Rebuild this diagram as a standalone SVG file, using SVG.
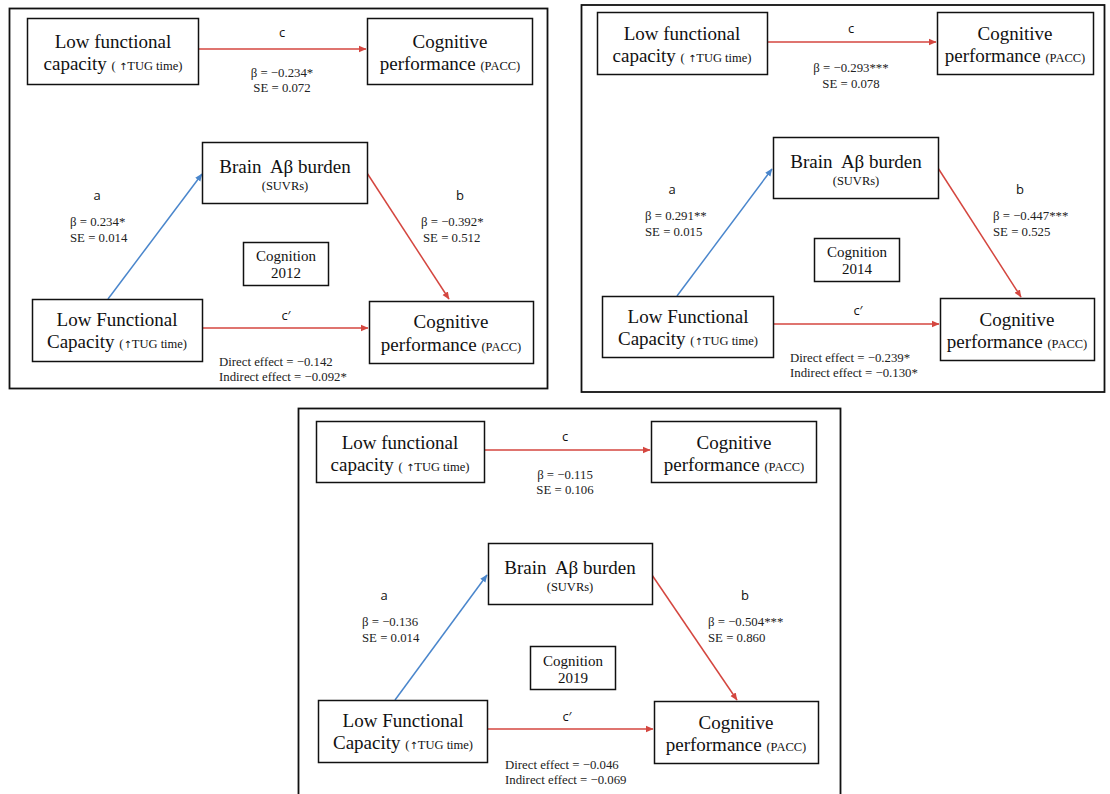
<svg xmlns="http://www.w3.org/2000/svg" width="1110" height="794" viewBox="0 0 1110 794">
<style>
.frame{fill:none;stroke:#111;stroke-width:1.8}
.box{fill:#fff;stroke:#111;stroke-width:1.5}
.t{font-family:'Liberation Serif','DejaVu Serif','Times New Roman',serif;font-size:19px;fill:#111;text-anchor:middle}
.s{font-size:12.5px}
.up{font-family:'DejaVu Sans',sans-serif;font-size:10px}
.cg{font-family:'Liberation Serif','DejaVu Serif','Times New Roman',serif;font-size:15px;fill:#111;text-anchor:middle}
.lab{font-family:'Open Sans','Liberation Sans',sans-serif;font-size:13px;fill:#111;text-anchor:middle}
.st{font-family:'Liberation Serif','DejaVu Serif','Times New Roman',serif;font-size:12.8px;fill:#222}
.mid{text-anchor:middle}
.red{stroke:#d4463f;stroke-width:1.5;fill:none;marker-end:url(#ar)}
.blue{stroke:#4a86cc;stroke-width:1.5;fill:none;marker-end:url(#ab)}
</style>
<defs>
<marker id="ar" markerWidth="8" markerHeight="8" refX="7" refY="4" orient="auto" markerUnits="userSpaceOnUse"><path d="M0,0.8 L7.5,4 L0,7.2 z" fill="#d4463f"/></marker>
<marker id="ab" markerWidth="8" markerHeight="8" refX="7" refY="4" orient="auto" markerUnits="userSpaceOnUse"><path d="M0,0.8 L7.5,4 L0,7.2 z" fill="#4a86cc"/></marker>
</defs>
<rect width="1110" height="794" fill="#fff"/>

<g id="frames">
<rect class="frame" x="9.5" y="8.5" width="538" height="380"/>
<rect class="frame" x="581.5" y="5" width="523" height="387"/>
<rect class="frame" x="298.5" y="408.5" width="542" height="400"/>
</g>

<g id="connectors">
<line class="red" x1="199" y1="49" x2="366" y2="49"/>
<line class="blue" x1="108" y1="299" x2="202" y2="174"/>
<line class="red" x1="367" y1="173" x2="449" y2="299"/>
<line class="red" x1="202" y1="328" x2="368" y2="328"/>

<line class="red" x1="768" y1="42" x2="936" y2="42"/>
<line class="blue" x1="677" y1="296" x2="772" y2="169"/>
<line class="red" x1="938" y1="168" x2="1021" y2="297"/>
<line class="red" x1="773" y1="324" x2="939" y2="324"/>

<line class="red" x1="484" y1="450" x2="650" y2="450"/>
<line class="blue" x1="395" y1="700" x2="487" y2="575"/>
<line class="red" x1="652" y1="575" x2="737" y2="700"/>
<line class="red" x1="487" y1="729" x2="653" y2="729"/>
</g>

<g id="p1-lfc-top">
<rect class="box" x="27.5" y="18.5" width="171" height="66"/>
<text class="t" x="113" y="48">Low functional</text>
<text class="t" x="113" y="70">capacity <tspan class="s">( </tspan><tspan class="up">↑</tspan><tspan class="s">TUG time)</tspan></text>
</g>
<g id="p1-cog-top">
<rect class="box" x="367.5" y="18.5" width="165" height="66"/>
<text class="t" x="450" y="48">Cognitive</text>
<text class="t" x="450" y="70">performance <tspan class="s">(PACC)</tspan></text>
</g>
<g id="p1-brain">
<rect class="box" x="202.5" y="142.5" width="165" height="61"/>
<text class="t" x="285" y="173" xml:space="preserve">Brain  Aβ burden</text>
<text class="t s" x="285" y="190">(SUVRs)</text>
</g>
<g id="p1-year">
<rect class="box" x="243.5" y="242.5" width="85" height="43"/>
<text class="cg" x="286" y="261">Cognition</text>
<text class="cg" x="286" y="278">2012</text>
</g>
<g id="p1-lfc-bot">
<rect class="box" x="32.5" y="299.5" width="170" height="62"/>
<text class="t" x="117" y="326">Low Functional</text>
<text class="t" x="117" y="348">Capacity <tspan class="s">(</tspan><tspan class="up">↑</tspan><tspan class="s">TUG time)</tspan></text>
</g>
<g id="p1-cog-bot">
<rect class="box" x="369.5" y="301.5" width="164" height="62"/>
<text class="t" x="451" y="328">Cognitive</text>
<text class="t" x="451" y="351">performance <tspan class="s">(PACC)</tspan></text>
</g>
<g id="p1-labels">
<text class="lab" x="282" y="37">c</text>
<text class="st mid" x="282" y="77">β = −0.234*</text>
<text class="st mid" x="282" y="92">SE = 0.072</text>
<text class="lab" x="97" y="200">a</text>
<text class="st" x="70" y="226">β = 0.234*</text>
<text class="st" x="70" y="242">SE = 0.014</text>
<text class="lab" x="460" y="200">b</text>
<text class="st" x="421" y="226">β = −0.392*</text>
<text class="st" x="423" y="242">SE = 0.512</text>
<text class="lab" x="286" y="320">c′</text>
<text class="st" x="219" y="366">Direct effect = −0.142</text>
<text class="st" x="219" y="381">Indirect effect = −0.092*</text>
</g>

<g id="p2-lfc-top">
<rect class="box" x="597.5" y="12.5" width="170" height="62"/>
<text class="t" x="682" y="40">Low functional</text>
<text class="t" x="682" y="62">capacity <tspan class="s">( </tspan><tspan class="up">↑</tspan><tspan class="s">TUG time)</tspan></text>
</g>
<g id="p2-cog-top">
<rect class="box" x="937.5" y="12.5" width="156" height="62"/>
<text class="t" x="1015" y="40">Cognitive</text>
<text class="t" x="1015" y="62">performance <tspan class="s">(PACC)</tspan></text>
</g>
<g id="p2-brain">
<rect class="box" x="773.5" y="137.5" width="165" height="61"/>
<text class="t" x="856" y="168" xml:space="preserve">Brain  Aβ burden</text>
<text class="t s" x="856" y="185">(SUVRs)</text>
</g>
<g id="p2-year">
<rect class="box" x="814.5" y="238.5" width="85" height="43"/>
<text class="cg" x="857" y="257">Cognition</text>
<text class="cg" x="857" y="274">2014</text>
</g>
<g id="p2-lfc-bot">
<rect class="box" x="602.5" y="296.5" width="171" height="61"/>
<text class="t" x="688" y="323">Low Functional</text>
<text class="t" x="688" y="345">Capacity <tspan class="s">(</tspan><tspan class="up">↑</tspan><tspan class="s">TUG time)</tspan></text>
</g>
<g id="p2-cog-bot">
<rect class="box" x="940.5" y="298.5" width="154" height="62"/>
<text class="t" x="1017" y="326">Cognitive</text>
<text class="t" x="1017" y="348">performance <tspan class="s">(PACC)</tspan></text>
</g>
<g id="p2-labels">
<text class="lab" x="851" y="33">c</text>
<text class="st mid" x="851" y="72">β = −0.293***</text>
<text class="st mid" x="851" y="88">SE = 0.078</text>
<text class="lab" x="672" y="194">a</text>
<text class="st" x="645" y="220">β = 0.291**</text>
<text class="st" x="645" y="236">SE = 0.015</text>
<text class="lab" x="1020" y="194">b</text>
<text class="st" x="993" y="220">β = −0.447***</text>
<text class="st" x="993" y="236">SE = 0.525</text>
<text class="lab" x="858" y="315">c′</text>
<text class="st" x="790" y="362">Direct effect = −0.239*</text>
<text class="st" x="790" y="377">Indirect effect = −0.130*</text>
</g>

<g id="p3-lfc-top">
<rect class="box" x="316.5" y="421.5" width="168" height="61"/>
<text class="t" x="400" y="449">Low functional</text>
<text class="t" x="400" y="471">capacity <tspan class="s">( </tspan><tspan class="up">↑</tspan><tspan class="s">TUG time)</tspan></text>
</g>
<g id="p3-cog-top">
<rect class="box" x="651.5" y="421.5" width="165" height="61"/>
<text class="t" x="734" y="449">Cognitive</text>
<text class="t" x="734" y="471">performance <tspan class="s">(PACC)</tspan></text>
</g>
<g id="p3-brain">
<rect class="box" x="488.5" y="543.5" width="164" height="61"/>
<text class="t" x="570" y="574" xml:space="preserve">Brain  Aβ burden</text>
<text class="t s" x="570" y="591">(SUVRs)</text>
</g>
<g id="p3-year">
<rect class="box" x="530.5" y="646.5" width="85" height="43"/>
<text class="cg" x="573" y="666">Cognition</text>
<text class="cg" x="573" y="683">2019</text>
</g>
<g id="p3-lfc-bot">
<rect class="box" x="318.5" y="700.5" width="169" height="62"/>
<text class="t" x="403" y="727">Low Functional</text>
<text class="t" x="403" y="749">Capacity <tspan class="s">(</tspan><tspan class="up">↑</tspan><tspan class="s">TUG time)</tspan></text>
</g>
<g id="p3-cog-bot">
<rect class="box" x="654.5" y="701.5" width="164" height="62"/>
<text class="t" x="736" y="729">Cognitive</text>
<text class="t" x="736" y="751">performance <tspan class="s">(PACC)</tspan></text>
</g>
<g id="p3-labels">
<text class="lab" x="565" y="441">c</text>
<text class="st mid" x="565" y="479">β = −0.115</text>
<text class="st mid" x="565" y="494">SE = 0.106</text>
<text class="lab" x="384" y="600">a</text>
<text class="st" x="362" y="626">β = −0.136</text>
<text class="st" x="362" y="642">SE = 0.014</text>
<text class="lab" x="745" y="600">b</text>
<text class="st" x="708" y="626">β = −0.504***</text>
<text class="st" x="708" y="642">SE = 0.860</text>
<text class="lab" x="567" y="721">c′</text>
<text class="st" x="505" y="769">Direct effect = −0.046</text>
<text class="st" x="505" y="784">Indirect effect = −0.069</text>
</g>
</svg>
